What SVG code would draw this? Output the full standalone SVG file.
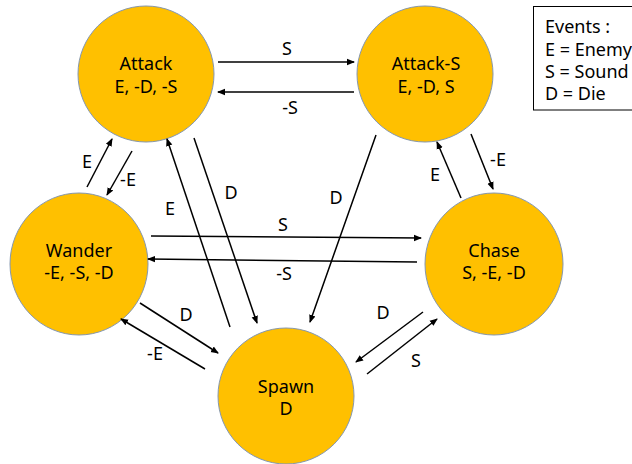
<svg xmlns="http://www.w3.org/2000/svg" width="632" height="464" viewBox="0 0 632 464">
<style>
.node{fill:#FFC000;stroke:#8497B0;stroke-width:1}
.t{font-family:"Noto Sans","Open Sans",sans-serif;font-size:18px;fill:#000;text-anchor:middle}
.lt{font-family:"Noto Sans","Open Sans",sans-serif;font-size:18px;fill:#000}
.c{stroke:#000;stroke-width:1.5;fill:none;marker-end:url(#ah)}
</style>
<defs>
<marker id="ah" markerWidth="8" markerHeight="8" refX="7" refY="4" orient="auto" markerUnits="userSpaceOnUse">
<path d="M0,0.8 L8,4 L0,7.2 Z" fill="#000"/>
</marker>
</defs>
<rect width="632" height="464" fill="#fff"/>
<g id="attack"><circle class="node" cx="146" cy="74" r="68"/><text class="t" x="146" y="70">Attack</text><text class="t" x="146" y="93">E, -D, -S</text></g>
<g id="attack-s"><circle class="node" cx="425" cy="74" r="68"/><text class="t" x="426" y="70">Attack-S</text><text class="t" x="426" y="93">E, -D, S</text></g>
<g id="wander"><ellipse class="node" cx="79" cy="264" rx="69" ry="71"/><text class="t" x="79" y="257">Wander</text><text class="t" x="79" y="279">-E, -S, -D</text></g>
<g id="chase"><ellipse class="node" cx="494" cy="264" rx="69" ry="71"/><text class="t" x="494" y="257">Chase</text><text class="t" x="494" y="279">S, -E, -D</text></g>
<g id="spawn"><circle class="node" cx="286" cy="396" r="68"/><text class="t" x="286" y="393">Spawn</text><text class="t" x="286" y="415">D</text></g>
<g id="legend"><rect x="533.5" y="6.5" width="110" height="103.5" fill="#fff" stroke="#000" stroke-width="1"/>
<text class="lt" x="545" y="33">Events :</text><text class="lt" x="545" y="56">E = Enemy</text><text class="lt" x="545" y="78">S = Sound</text><text class="lt" x="545" y="100">D = Die</text></g>
<g id="connectors">
<line class="c" x1="218" y1="62" x2="354" y2="62"/>
<line class="c" x1="354" y1="92" x2="218" y2="92"/>
<line class="c" x1="87" y1="187" x2="112" y2="139"/>
<line class="c" x1="132" y1="151" x2="107" y2="195"/>
<line class="c" x1="230" y1="327" x2="167" y2="139"/>
<line class="c" x1="194" y1="138" x2="257" y2="323"/>
<line class="c" x1="376" y1="135" x2="310" y2="322"/>
<line class="c" x1="151" y1="236" x2="421" y2="238"/>
<line class="c" x1="417" y1="262" x2="148" y2="259"/>
<line class="c" x1="471" y1="134" x2="493" y2="189"/>
<line class="c" x1="461" y1="198" x2="437" y2="142"/>
<line class="c" x1="140" y1="303" x2="218" y2="353"/>
<line class="c" x1="205" y1="369" x2="121" y2="319"/>
<line class="c" x1="423" y1="312" x2="356" y2="362"/>
<line class="c" x1="367" y1="374" x2="437" y2="319"/>
</g>
<g id="labels">
<text class="t" x="287" y="55">S</text>
<text class="t" x="290" y="114">-S</text>
<text class="t" x="87" y="168">E</text>
<text class="t" x="128" y="186">-E</text>
<text class="t" x="170" y="215">E</text>
<text class="t" x="231" y="199">D</text>
<text class="t" x="336" y="204">D</text>
<text class="t" x="283" y="231">S</text>
<text class="t" x="284" y="280">-S</text>
<text class="t" x="498" y="166">-E</text>
<text class="t" x="435" y="181">E</text>
<text class="t" x="186" y="321">D</text>
<text class="t" x="155" y="360">-E</text>
<text class="t" x="383" y="319">D</text>
<text class="t" x="416" y="367">S</text>
</g>
</svg>
